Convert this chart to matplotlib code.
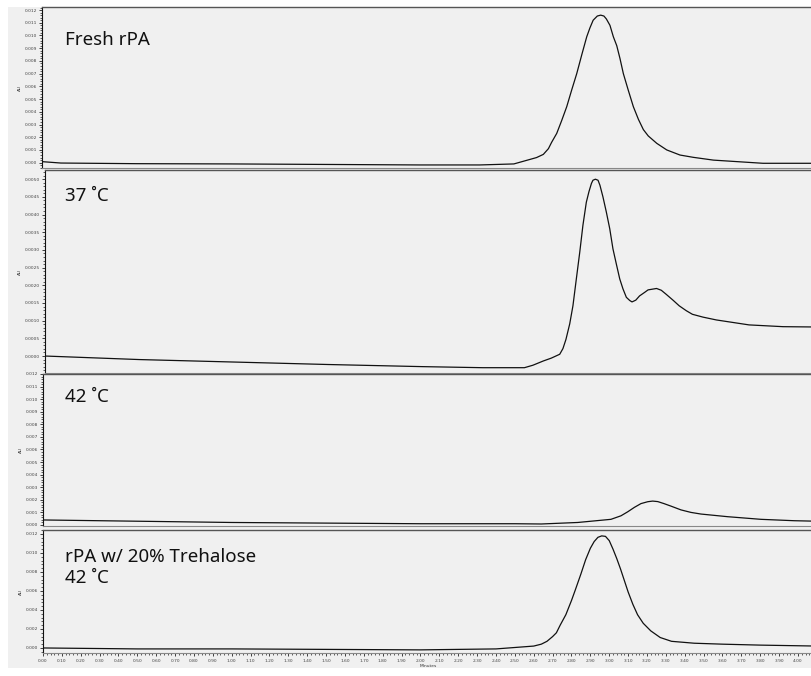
import matplotlib
matplotlib.use("Agg")
import matplotlib.pyplot as plt
from matplotlib.ticker import MultipleLocator, FormatStrFormatter
from matplotlib.patches import Rectangle

# ---- chromatogram traces (time in minutes, absorbance in AU) ----
fresh_t = [0.00, 0.10, 0.50, 1.00, 1.50, 2.00, 2.32, 2.50, 2.62, 2.656, 2.683, 2.70,
           2.727, 2.753, 2.78, 2.806, 2.833, 2.86, 2.886, 2.903, 2.92, 2.942, 2.96,
           2.977, 2.99, 3.009, 3.027, 3.045, 3.062, 3.08, 3.106, 3.133, 3.16, 3.186,
           3.212, 3.257, 3.31, 3.38, 3.45, 3.557, 3.82, 4.10]
fresh_au = [0.00008, -0.00003, -0.00008, -0.0001, -0.00014, -0.00018, -0.00018, -0.0001,
            0.0004, 0.00065, 0.0011, 0.0016, 0.0023, 0.0033, 0.0044, 0.0057, 0.0070,
            0.0085, 0.0099, 0.0106, 0.0112, 0.01153, 0.0116, 0.01153, 0.0113, 0.0108,
            0.0099, 0.0092, 0.0082, 0.0070, 0.0057, 0.0044, 0.0034, 0.0026, 0.0021,
            0.00152, 0.0010, 0.0006, 0.00042, 0.0002, -0.00005, -0.00005]

t37_t = [0.00, 0.50, 1.00, 1.50, 2.00, 2.32, 2.54, 2.585, 2.64, 2.682, 2.727, 2.744,
         2.76, 2.78, 2.797, 2.815, 2.833, 2.85, 2.868, 2.882, 2.895, 2.903, 2.916,
         2.93, 2.94, 2.956, 2.974, 2.992, 3.009, 3.027, 3.045, 3.062, 3.08, 3.098,
         3.11, 3.13, 3.15, 3.177, 3.195, 3.24, 3.265, 3.29, 3.327, 3.36, 3.398, 3.43,
         3.486, 3.557, 3.73, 3.91, 4.10]
t37_au = [0.0000, -0.0001, -0.00017, -0.00024, -0.0003, -0.00033, -0.00033, -0.00026,
          -0.00014, -0.00006, 0.00005, 0.00021, 0.00047, 0.00091, 0.00142, 0.00218,
          0.00293, 0.0037, 0.00435, 0.00465, 0.00488, 0.00497, 0.0050, 0.00497,
          0.00483, 0.0045, 0.00407, 0.0036, 0.00303, 0.0026, 0.00218, 0.0019, 0.00166,
          0.00157, 0.00153, 0.00158, 0.0017, 0.0018, 0.00187, 0.00191, 0.00186,
          0.00175, 0.00158, 0.00142, 0.00128, 0.00118, 0.0011, 0.00102, 0.00088,
          0.00083, 0.00082]

t42_t = [0.00, 0.50, 1.00, 2.00, 2.50, 2.64, 2.833, 3.009, 3.062, 3.098, 3.133, 3.168,
         3.204, 3.23, 3.257, 3.29, 3.327, 3.38, 3.433, 3.486, 3.627, 3.804, 3.98, 4.10]
t42_au = [0.0004, 0.0003, 0.0002, 0.0001, 0.0001, 0.00008, 0.0002, 0.00045, 0.00073,
          0.00105, 0.0014, 0.0017, 0.00185, 0.0019, 0.00186, 0.0017, 0.0015, 0.0012,
          0.0010, 0.00087, 0.00066, 0.00045, 0.00034, 0.0003]

treh_t = [0.00, 0.50, 1.00, 1.50, 2.00, 2.40, 2.60, 2.64, 2.67, 2.70, 2.72, 2.74, 2.77,
          2.80, 2.82, 2.85, 2.875, 2.90, 2.92, 2.94, 2.96, 2.98, 3.00, 3.02, 3.04, 3.06,
          3.08, 3.10, 3.125, 3.15, 3.18, 3.22, 3.27, 3.33, 3.45, 3.60, 3.80, 4.10]
treh_au = [0.0000, -0.0001, -0.0001, -0.00015, -0.0002, -0.0001, 0.0002, 0.0004, 0.0007,
           0.0012, 0.0016, 0.0024, 0.0035, 0.0050, 0.0061, 0.0078, 0.0093, 0.0105,
           0.0112, 0.01165, 0.0118, 0.01175, 0.0113, 0.0104, 0.0094, 0.0083, 0.0071,
           0.0059, 0.0046, 0.0035, 0.0026, 0.0018, 0.0011, 0.0007, 0.0005, 0.0004,
           0.0003, 0.0002]

panel_titles = ["Fresh rPA", "37 \u02daC", "42 \u02daC", "rPA w/ 20% Trehalose\n42 \u02daC"]
x_label = "Minutes"
y_label = "AU"

# ---- layout in pixels ----
W, H = 812, 676
fig = plt.figure(figsize=(W / 100, H / 100), dpi=100, facecolor="white")
fig.patches.append(Rectangle((8 / W, 1 - 668 / H), 1, 661 / H, transform=fig.transFigure,
                             facecolor="#f0f0f0", edgecolor="none", zorder=-10))

BG = "#f0f0f0"
px_per_min = 188.75
x_max = 4.08

# (left px, top px, bottom px, ylim, major step, minor step, label format)
panels = [
    (42, 7, 168, (-0.00042, 0.01224), 0.001, 0.0002, "%.3f"),
    (45, 170, 373, (-0.00048, 0.00526), 0.0005, 0.0001, "%.4f"),
    (43, 374, 526, (-0.00008, 0.0120), 0.001, 0.0002, "%.3f"),
    (43, 530, 653, (-0.00053, 0.01242), 0.002, 0.0004, "%.3f"),
]
traces = [(fresh_t, fresh_au), (t37_t, t37_au), (t42_t, t42_au), (treh_t, treh_au)]
title_baselines = [45, 201, 402, 583]

for i, ((left, top, bottom, ylim, maj, mnr, fmt), (tt, au)) in enumerate(zip(panels, traces)):
    width_px = x_max * px_per_min
    ax = fig.add_axes([left / W, 1 - bottom / H, width_px / W, (bottom - top) / H])
    ax.set_facecolor(BG)
    ax.plot(tt, au, color="#111111", lw=0.9, solid_joinstyle="round")
    ax.set_xlim(0.0, x_max)
    ax.set_ylim(*ylim)
    ax.yaxis.set_major_locator(MultipleLocator(maj))
    ax.yaxis.set_minor_locator(MultipleLocator(mnr))
    ax.yaxis.set_major_formatter(FormatStrFormatter(fmt))
    ax.tick_params(axis="y", which="major", labelsize=3.2, length=2.5, width=0.6,
                   pad=1, labelcolor="#444444", color="#222222")
    ax.tick_params(axis="y", which="minor", length=1.2, width=0.5, color="#222222")
    ax.spines["right"].set_visible(False)
    ax.spines["top"].set_color("#555555")
    ax.spines["top"].set_linewidth(1.0)
    ax.spines["left"].set_color("#111111")
    ax.spines["left"].set_linewidth(0.8)
    ax.spines["bottom"].set_color("#888888")
    ax.spines["bottom"].set_linewidth(0.8)
    ax.set_ylabel(y_label, fontsize=3.2, labelpad=2, color="#333333")
    if i < 3:
        ax.tick_params(axis="x", which="both", bottom=False, labelbottom=False)
    else:
        ax.xaxis.set_major_locator(MultipleLocator(0.10))
        ax.xaxis.set_minor_locator(MultipleLocator(0.02))
        ax.xaxis.set_major_formatter(FormatStrFormatter("%.2f"))
        ax.tick_params(axis="x", which="major", labelsize=3.2, length=2.5, width=0.6,
                       pad=1.5, labelcolor="#444444", color="#222222")
        ax.tick_params(axis="x", which="minor", length=1.2, width=0.5, color="#222222")
        ax.set_xlabel(x_label, fontsize=3.2, labelpad=1, color="#333333")

    fig.text(65 / W, 1 - title_baselines[i] / H, panel_titles[i],
             fontsize=13.5, family=["Noto Sans", "DejaVu Sans"], color="#111111",
             ha="left", va="baseline", linespacing=1.2)

fig.savefig("out.png", dpi=100, facecolor=fig.get_facecolor())
